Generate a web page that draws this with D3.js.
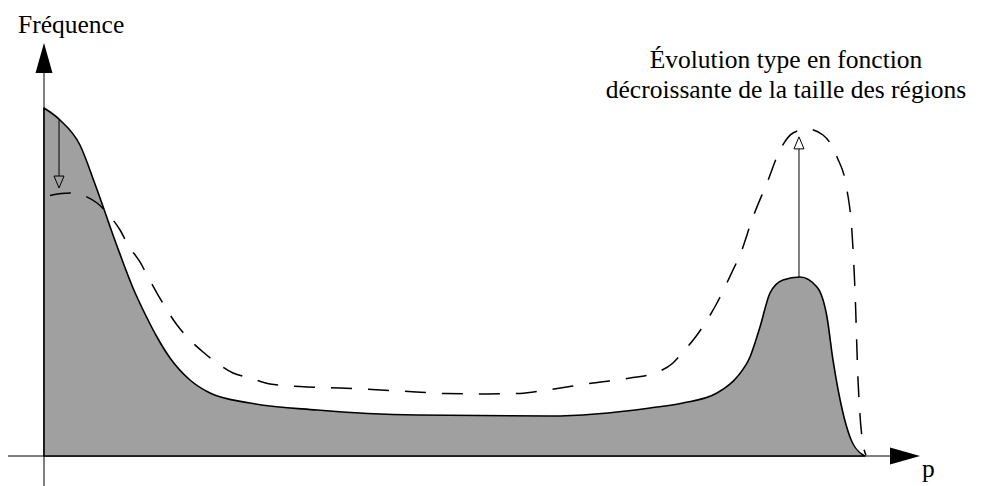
<!DOCTYPE html>
<html>
<head>
<meta charset="utf-8">
<script src="https://cdn.jsdelivr.net/npm/d3@7"></script>
<style>
  html, body { margin: 0; padding: 0; background: #fff; }
  svg { display: block; }
  text { font-family: "Liberation Serif", "Times New Roman", serif; fill: #000; }
</style>
</head>
<body>
<svg id="chart" width="981" height="486"></svg>
<script>
// Current distribution (shaded): p values and frequencies
const shadedP = [0, 1.95, 4.38, 6.21, 8.89, 10.84, 12.55, 13.76, 15.35, 17.78, 20.22,
  25.09, 33.25, 45.43, 61.63, 73.81, 77.83, 81.97, 84.41, 85.99, 87.21, 88.43, 90.01,
  92.08, 94.15, 95.37, 96.10, 97.32, 98.17, 99.76, 100];
const shadedF = [100, 96.55, 89.37, 78.16, 60.34, 48.28, 39.66, 34.20, 28.16, 21.84, 18.10,
  15.23, 13.22, 11.78, 11.49, 13.79, 15.23, 18.10, 22.70, 28.45, 37.07, 46.84, 50.57,
  51.44, 48.56, 39.94, 27.59, 12.36, 5.46, 0.29, 0];

// Evolved distribution (dashed)
const dashedP = [0.37, 3.17, 6.46, 7.67, 9.26, 10.23, 11.69, 12.67, 13.89, 14.98, 16.20, 17.54,
  19.37, 21.07, 23.02, 25.09, 27.53, 31.18, 36.05, 43.36, 48.84, 53.11, 57.98, 61.27,
  66.87, 71.38, 74.42, 76.61, 77.83, 79.54, 81.97, 83.92, 84.77, 86.36, 88.06, 89.65,
  91.23, 92.94, 94.88, 96.59, 97.81, 98.42, 98.78, 99.15, 99.63, 100.12];
const dashedF = [74.71, 75.57, 72.70, 69.83, 64.94, 60.63, 55.75, 51.44, 46.26, 41.95, 37.64, 33.91,
  29.89, 26.72, 23.85, 22.41, 20.69, 19.97, 19.54, 18.68, 17.96, 17.82, 17.96, 18.97,
  20.98, 22.41, 23.85, 26.72, 29.89, 34.77, 43.97, 53.45, 57.76, 68.68, 78.45, 87.93,
  92.82, 93.97, 92.24, 85.92, 76.44, 64.08, 47.70, 21.84, 5.46, 0.29];

// Change arrows: position on p, start and end frequency
const arrowP = [1.83, 91.96];
const arrowFrom = [96.8, 51.4];
const arrowTo = [77.0, 91.7];

const yLabel = "Fréquence";
const xLabel = "p";
const noteLines = ["Évolution type en fonction", "décroissante de la taille des régions"];

const svg = d3.select("#chart");
const x = d3.scaleLinear().domain([0, 100]).range([44, 865]);
const y = d3.scaleLinear().domain([0, 100]).range([456, 108]);

const x0 = x(0), y0 = y(0);

// Axes lines
svg.append("line").attr("x1", x0).attr("x2", x0).attr("y1", 486).attr("y2", 72)
  .attr("stroke", "#000").attr("stroke-width", 1);
svg.append("line").attr("x1", 8).attr("x2", 891).attr("y1", y0).attr("y2", y0)
  .attr("stroke", "#000").attr("stroke-width", 1);

// Axis arrowheads
svg.append("path")
  .attr("d", `M${x0},43 L${x0 - 8.5},73 L${x0 + 8.5},73 Z`)
  .attr("fill", "#000");
svg.append("path")
  .attr("d", `M920,${y0} L890,${y0 - 8.5} L890,${y0 + 8.5} Z`)
  .attr("fill", "#000");

// Shaded distribution
const shaded = shadedP.map((p, i) => ({ p, f: shadedF[i] }));
const area = d3.area()
  .x(d => x(d.p)).y0(y(0)).y1(d => y(d.f))
  .curve(d3.curveMonotoneX);
svg.append("path").datum(shaded)
  .attr("d", area)
  .attr("fill", "#a0a0a0")
  .attr("stroke", "#000")
  .attr("stroke-width", 1.6)
  .attr("stroke-linejoin", "round");

// Dashed distribution
const dashed = dashedP.map((p, i) => ({ p, f: dashedF[i] }));
const line = d3.line().x(d => x(d.p)).y(d => y(d.f)).curve(d3.curveMonotoneX);
svg.append("path").datum(dashed)
  .attr("d", line)
  .attr("fill", "none")
  .attr("stroke", "#000")
  .attr("stroke-width", 1.5)
  .attr("stroke-dasharray", "21,16")
  .attr("stroke-dashoffset", -3);

// Change arrows with open heads
arrowP.forEach((p, i) => {
  const ax = x(p), ya = y(arrowFrom[i]), yb = y(arrowTo[i]);
  const dir = Math.sign(yb - ya);
  const headLen = 12, headHalf = 5;
  const base = yb - dir * headLen;
  svg.append("line").attr("x1", ax).attr("x2", ax).attr("y1", ya).attr("y2", base)
    .attr("stroke", "#000").attr("stroke-width", 1);
  svg.append("path")
    .attr("d", `M${ax},${yb} L${ax - headHalf},${base} L${ax + headHalf},${base} Z`)
    .attr("fill", i === 0 ? "none" : "#fff")
    .attr("stroke", "#000").attr("stroke-width", 1);
});

// Labels
svg.append("text").attr("x", 18).attr("y", 33)
  .attr("font-size", 25.5).text(yLabel);
svg.append("text").attr("x", 922).attr("y", 477)
  .attr("font-size", 25.5).text(xLabel);
svg.append("text").attr("x", 786).attr("y", 68)
  .attr("text-anchor", "middle").attr("font-size", 25.5)
  .selectAll("tspan").data(noteLines).join("tspan")
  .attr("x", 786).attr("dy", (d, i) => i === 0 ? 0 : 30)
  .text(d => d);
</script>
</body>
</html>
